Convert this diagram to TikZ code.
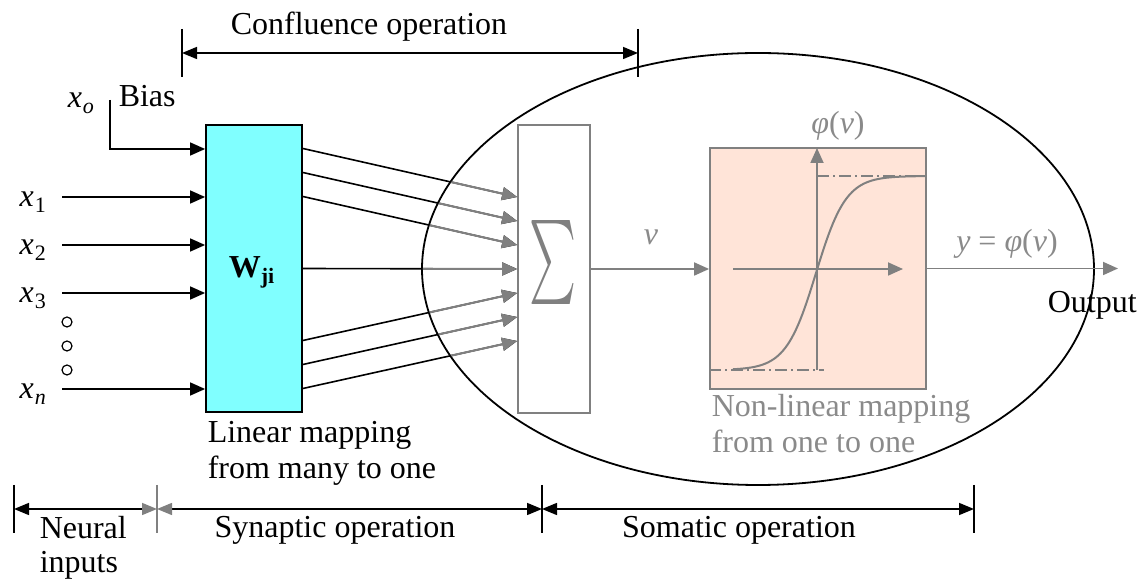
\documentclass[tikz,border=0pt]{standalone}
\usepackage{fontspec}
\setmainfont{Liberation Serif}
\usetikzlibrary{arrows.meta,calc}
\definecolor{wcyan}{HTML}{80FFFF}
\definecolor{pinkf}{HTML}{FFE4D8}
\definecolor{gline}{HTML}{808080}
\definecolor{gtext}{HTML}{8A8A8A}
\newcommand{\sbs}[1]{\raisebox{-0.4ex}{\fontsize{11}{11}\selectfont #1}}
\newcommand{\vx}[1]{\textit{x}\kern0.5pt\sbs{#1}}
\tikzset{
  tip/.style={-{Triangle[length=7.5pt,width=6.5pt]}},
  dimline/.style={{Triangle[length=7.5pt,width=6pt]}-{Triangle[length=7.5pt,width=6pt]}, line width=0.75pt},
  lbl/.style={inner sep=0pt, font=\fontsize{16}{18}\selectfont},
  glbl/.style={lbl, text=gtext},
  tick/.style={line width=0.75pt},
  dotc/.style={circle, draw, line width=0.6pt, minimum size=5pt, inner sep=0pt},
}
\begin{document}
\begin{tikzpicture}[x=0.5pt,y=-0.5pt, line width=0.75pt]
\useasboundingbox (0,0) rectangle (1147,582);

% ---- boxes ----
\node[draw, fill=wcyan, line width=0.9pt, minimum width=48pt, minimum height=143.5pt, inner sep=0pt] (W) at (254,268.5) {};
\node[lbl, anchor=base west] (Wl) at (228,278) {\textbf{W}\raisebox{-0.4ex}{\fontsize{11}{11}\selectfont\textbf{ji}}};
\node[draw=gline, line width=0.9pt, minimum width=36pt, minimum height=144pt, inner sep=0pt] (S) at (554,269) {};
\node[text=gline, inner sep=0pt] (Sig) at (553,263) {\resizebox{23.5pt}{31.5pt}{$\sum$}};
\node[draw=gline, fill=pinkf, line width=0.9pt, minimum width=108pt, minimum height=120.5pt, inner sep=0pt] (P) at (818,268.5) {};

% ---- sigmoid ----
\coordinate (ax0) at (733,269);
\coordinate (ax1) at (903,269);
\coordinate (ay0) at (817,370);
\coordinate (ay1) at (817,148);
\draw[gline, line width=0.9pt, tip] (ax0) -- (ax1);
\draw[gline, line width=0.9pt, tip] (ay0) -- (ay1);
\draw[gline, line width=0.75pt, dash pattern=on 6pt off 2pt on 1pt off 2pt] (817,176) -- (P.east |- 0,176);
\draw[gline, line width=0.75pt, dash pattern=on 6pt off 2pt on 1pt off 2pt] (P.west |- 0,370) -- (824,370);
\draw[gline, line width=1pt] plot[domain=733:926, samples=90] (\x, {370-194/(1+exp(-(\x-816)/15))});

% ---- ellipse ----
\draw[line width=0.9pt] (758,269) ellipse [x radius=168pt, y radius=108pt];

% ---- synaptic connectors ----
\foreach \a/\b in {60/36,48/24,36/12,0/0,-36/-12,-48/-24,-60/-36}{
  \draw[tip, line width=0.8pt] ([yshift=\a pt]W.east) -- ([yshift=\b pt]S.west);
}
\begin{scope}
  \clip (758,269) ellipse [x radius=167.6pt, y radius=107.6pt];
  \foreach \a/\b in {60/36,48/24,36/12,0/0,-36/-12,-48/-24,-60/-36}{
    \draw[tip, gline, line width=1pt] ([yshift=\a pt]W.east) -- ([yshift=\b pt]S.west);
  }
\end{scope}

% ---- inputs ----
\node[lbl, anchor=base west] (x1) at (19,207) {\vx{1}};
\node[lbl, anchor=base west] (x2) at (19,255) {\vx{2}};
\node[lbl, anchor=base west] (x3) at (19,303) {\vx{3}};
\node[lbl, anchor=base west] (xn) at (19,399) {\vx{\textit{n}}};
\node[lbl, anchor=base west] (xo) at (67,108) {\vx{\textit{o}}};
\node[lbl, anchor=base west] (bias) at (118,107) {Bias};
\coordinate (i1) at (62,197);
\coordinate (i2) at (62,245);
\coordinate (i3) at (62,293);
\coordinate (in) at (62,389);
\coordinate (b0) at (110,100);
\coordinate (b1) at (110,149);
\foreach \c in {i1,i2,i3,in}{
  \draw[tip] (\c) -- (W.west |- \c);
}
\draw[tip] (b0) -- (b1) -- (W.west |- b1);
\node[dotc] (d1) at (67,322) {};
\node[dotc] (d2) at (67,346) {};
\node[dotc] (d3) at (67,370) {};

% ---- soma connectors ----
\draw[tip, gline, line width=0.9pt] (S.east) -- (S.east -| P.west);
\node[glbl, anchor=base] (vl) at (651,245) {\textit{v}};
\coordinate (out) at (1118,268.5);
\draw[tip, gline, line width=0.9pt] (P.east) -- (out);
\node[glbl, anchor=base] (phi) at (838,134) {\textit{φ}(\textit{v})};
\node[glbl, anchor=base] (yl) at (1007,252) {\textit{y} = \textit{φ}(\textit{v})};
\node[lbl, anchor=base west] (outl) at (1047,313) {Output};

% ---- texts ----
\node[lbl, anchor=base west, align=left] (lin) at (207,479) {Linear mapping\\from many to one};
\node[glbl, anchor=base west, align=left] (nonlin) at (711,453) {Non-linear mapping\\from one to one};

% ---- confluence dimension ----
\coordinate (c1) at (182,53);
\coordinate (c2) at (638,53);
\draw[tick] (182,29) -- (182,77);
\draw[tick] (638,29) -- (638,77);
\draw[dimline] (c1) -- (c2);
\node[lbl, anchor=base] (conf) at (369,35) {Confluence operation};

% ---- bottom dimensions ----
\coordinate (e0) at (14,509);
\coordinate (e1) at (157,509);
\coordinate (e2) at (542,509);
\coordinate (e3) at (974,509);
\foreach \xx in {14,542,974}{ \draw[tick] (\xx,485) -- (\xx,533); }
\draw[tick, gline] (157,485) -- (157,533);
\draw[line width=0.75pt, {Triangle[length=7.5pt,width=6pt]}-{Triangle[length=7.5pt,width=6pt,color=gline]}] (e0) -- (e1);
\draw[line width=0.75pt, {Triangle[length=7.5pt,width=6pt,color=gline]}-{Triangle[length=7.5pt,width=6pt]}] (e1) -- (e2);
\draw[dimline] (e2) -- (e3);
\node[lbl, anchor=base west, align=left, font=\fontsize{16}{17}\selectfont] (neur) at (39,573) {Neural\\inputs};
\node[lbl, anchor=base] (syn) at (335,538) {Synaptic operation};
\node[lbl, anchor=base] (som) at (739,538) {Somatic operation};
\end{tikzpicture}
\end{document}
